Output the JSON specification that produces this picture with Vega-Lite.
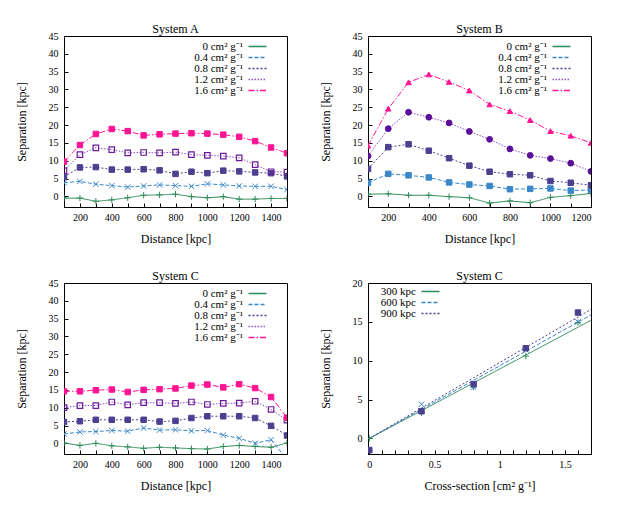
{
"$schema": "https://vega.github.io/schema/vega-lite/v6.json",
"padding": {"left": 14, "top": 22, "right": 5, "bottom": 5},
"bounds": "flush",
"columns": 2,
"spacing": {"column": 81, "row": 76},
"resolve": {"scale": {"color": "independent", "strokeDash": "independent", "x": "independent", "y": "independent"}, "legend": {"color": "independent", "strokeDash": "independent"}},
"config": {
  "font": "Liberation Serif",
  "view": {"stroke": "black", "strokeWidth": 1},
  "axis": {"grid": false, "domainColor": "black", "tickColor": "black", "tickSize": -4, "labelFontSize": 10, "labelColor": "black", "titleFontSize": 12, "titleFontWeight": "normal", "titleColor": "black", "format": "d"},
  "axisX": {"titlePadding": 11, "labelPadding": 9},
  "axisY": {"titlePadding": 20, "labelPadding": 10},
  "title": {"fontSize": 12, "fontWeight": "normal", "offset": -5, "color": "black"},
  "legend": {"symbolType": "M-3,0L3,0", "symbolSize": 36, "symbolStrokeWidth": 1.3, "symbolOpacity": 1, "labelAlign": "right", "labelOffset": -20, "labelFontSize": 11, "labelColor": "black", "rowPadding": -1, "padding": 0}
},
"datasets": {
  "A": [
    {"s":"0 cm² g⁻¹","d":100,"v":-0.5},{"s":"0 cm² g⁻¹","d":200,"v":-0.5},{"s":"0 cm² g⁻¹","d":300,"v":-1.4},{"s":"0 cm² g⁻¹","d":400,"v":-1.0},{"s":"0 cm² g⁻¹","d":500,"v":-0.4},{"s":"0 cm² g⁻¹","d":600,"v":0.3},{"s":"0 cm² g⁻¹","d":700,"v":0.4},{"s":"0 cm² g⁻¹","d":800,"v":0.6},{"s":"0 cm² g⁻¹","d":900,"v":-0.1},{"s":"0 cm² g⁻¹","d":1000,"v":-0.4},{"s":"0 cm² g⁻¹","d":1100,"v":-0.1},{"s":"0 cm² g⁻¹","d":1200,"v":-0.8},{"s":"0 cm² g⁻¹","d":1300,"v":-0.8},{"s":"0 cm² g⁻¹","d":1400,"v":-0.6},{"s":"0 cm² g⁻¹","d":1500,"v":-0.6},
    {"s":"0.4 cm² g⁻¹","d":100,"v":3.8},{"s":"0.4 cm² g⁻¹","d":200,"v":4.2},{"s":"0.4 cm² g⁻¹","d":300,"v":3.4},{"s":"0.4 cm² g⁻¹","d":400,"v":3.0},{"s":"0.4 cm² g⁻¹","d":500,"v":2.6},{"s":"0.4 cm² g⁻¹","d":600,"v":2.9},{"s":"0.4 cm² g⁻¹","d":700,"v":3.2},{"s":"0.4 cm² g⁻¹","d":800,"v":3.0},{"s":"0.4 cm² g⁻¹","d":900,"v":2.8},{"s":"0.4 cm² g⁻¹","d":1000,"v":3.5},{"s":"0.4 cm² g⁻¹","d":1100,"v":3.2},{"s":"0.4 cm² g⁻¹","d":1200,"v":2.9},{"s":"0.4 cm² g⁻¹","d":1300,"v":2.8},{"s":"0.4 cm² g⁻¹","d":1400,"v":2.8},{"s":"0.4 cm² g⁻¹","d":1500,"v":1.9},
    {"s":"0.8 cm² g⁻¹","d":100,"v":5.5},{"s":"0.8 cm² g⁻¹","d":200,"v":8.1},{"s":"0.8 cm² g⁻¹","d":300,"v":8.2},{"s":"0.8 cm² g⁻¹","d":400,"v":7.5},{"s":"0.8 cm² g⁻¹","d":500,"v":7.5},{"s":"0.8 cm² g⁻¹","d":600,"v":7.6},{"s":"0.8 cm² g⁻¹","d":700,"v":7.3},{"s":"0.8 cm² g⁻¹","d":800,"v":6.3},{"s":"0.8 cm² g⁻¹","d":900,"v":6.9},{"s":"0.8 cm² g⁻¹","d":1000,"v":6.5},{"s":"0.8 cm² g⁻¹","d":1100,"v":7.2},{"s":"0.8 cm² g⁻¹","d":1200,"v":7.0},{"s":"0.8 cm² g⁻¹","d":1300,"v":6.7},{"s":"0.8 cm² g⁻¹","d":1400,"v":6.5},{"s":"0.8 cm² g⁻¹","d":1500,"v":5.6},
    {"s":"1.2 cm² g⁻¹","d":100,"v":7.2},{"s":"1.2 cm² g⁻¹","d":200,"v":11.7},{"s":"1.2 cm² g⁻¹","d":300,"v":13.6},{"s":"1.2 cm² g⁻¹","d":400,"v":13.1},{"s":"1.2 cm² g⁻¹","d":500,"v":12.2},{"s":"1.2 cm² g⁻¹","d":600,"v":12.3},{"s":"1.2 cm² g⁻¹","d":700,"v":12.2},{"s":"1.2 cm² g⁻¹","d":800,"v":12.4},{"s":"1.2 cm² g⁻¹","d":900,"v":11.7},{"s":"1.2 cm² g⁻¹","d":1000,"v":11.5},{"s":"1.2 cm² g⁻¹","d":1100,"v":11.3},{"s":"1.2 cm² g⁻¹","d":1200,"v":10.8},{"s":"1.2 cm² g⁻¹","d":1300,"v":8.9},{"s":"1.2 cm² g⁻¹","d":1400,"v":6.9},{"s":"1.2 cm² g⁻¹","d":1500,"v":6.8},
    {"s":"1.6 cm² g⁻¹","d":100,"v":9.7},{"s":"1.6 cm² g⁻¹","d":200,"v":14.4},{"s":"1.6 cm² g⁻¹","d":300,"v":17.5},{"s":"1.6 cm² g⁻¹","d":400,"v":18.9},{"s":"1.6 cm² g⁻¹","d":500,"v":18.3},{"s":"1.6 cm² g⁻¹","d":600,"v":17.1},{"s":"1.6 cm² g⁻¹","d":700,"v":17.4},{"s":"1.6 cm² g⁻¹","d":800,"v":17.6},{"s":"1.6 cm² g⁻¹","d":900,"v":17.7},{"s":"1.6 cm² g⁻¹","d":1000,"v":17.6},{"s":"1.6 cm² g⁻¹","d":1100,"v":17.3},{"s":"1.6 cm² g⁻¹","d":1200,"v":16.7},{"s":"1.6 cm² g⁻¹","d":1300,"v":15.5},{"s":"1.6 cm² g⁻¹","d":1400,"v":13.7},{"s":"1.6 cm² g⁻¹","d":1500,"v":12.1}
  ],
  "B": [
    {"s":"0 cm² g⁻¹","d":100,"v":0.6},{"s":"0 cm² g⁻¹","d":200,"v":0.7},{"s":"0 cm² g⁻¹","d":300,"v":0.3},{"s":"0 cm² g⁻¹","d":400,"v":0.3},{"s":"0 cm² g⁻¹","d":500,"v":-0.1},{"s":"0 cm² g⁻¹","d":600,"v":-0.4},{"s":"0 cm² g⁻¹","d":700,"v":-1.9},{"s":"0 cm² g⁻¹","d":800,"v":-1.3},{"s":"0 cm² g⁻¹","d":900,"v":-1.8},{"s":"0 cm² g⁻¹","d":1000,"v":-0.3},{"s":"0 cm² g⁻¹","d":1100,"v":0.2},{"s":"0 cm² g⁻¹","d":1200,"v":0.8},
    {"s":"0.4 cm² g⁻¹","d":100,"v":3.8},{"s":"0.4 cm² g⁻¹","d":200,"v":6.3},{"s":"0.4 cm² g⁻¹","d":300,"v":5.9},{"s":"0.4 cm² g⁻¹","d":400,"v":5.3},{"s":"0.4 cm² g⁻¹","d":500,"v":3.9},{"s":"0.4 cm² g⁻¹","d":600,"v":3.3},{"s":"0.4 cm² g⁻¹","d":700,"v":2.9},{"s":"0.4 cm² g⁻¹","d":800,"v":2.0},{"s":"0.4 cm² g⁻¹","d":900,"v":2.1},{"s":"0.4 cm² g⁻¹","d":1000,"v":2.2},{"s":"0.4 cm² g⁻¹","d":1100,"v":1.6},{"s":"0.4 cm² g⁻¹","d":1200,"v":1.8},
    {"s":"0.8 cm² g⁻¹","d":100,"v":7.7},{"s":"0.8 cm² g⁻¹","d":200,"v":13.8},{"s":"0.8 cm² g⁻¹","d":300,"v":14.6},{"s":"0.8 cm² g⁻¹","d":400,"v":12.8},{"s":"0.8 cm² g⁻¹","d":500,"v":10.7},{"s":"0.8 cm² g⁻¹","d":600,"v":8.6},{"s":"0.8 cm² g⁻¹","d":700,"v":6.9},{"s":"0.8 cm² g⁻¹","d":800,"v":6.2},{"s":"0.8 cm² g⁻¹","d":900,"v":5.9},{"s":"0.8 cm² g⁻¹","d":1000,"v":4.3},{"s":"0.8 cm² g⁻¹","d":1100,"v":3.8},{"s":"0.8 cm² g⁻¹","d":1200,"v":3.1},
    {"s":"1.2 cm² g⁻¹","d":100,"v":11.3},{"s":"1.2 cm² g⁻¹","d":200,"v":19.0},{"s":"1.2 cm² g⁻¹","d":300,"v":23.6},{"s":"1.2 cm² g⁻¹","d":400,"v":22.2},{"s":"1.2 cm² g⁻¹","d":500,"v":20.6},{"s":"1.2 cm² g⁻¹","d":600,"v":18.2},{"s":"1.2 cm² g⁻¹","d":700,"v":16.0},{"s":"1.2 cm² g⁻¹","d":800,"v":13.3},{"s":"1.2 cm² g⁻¹","d":900,"v":11.5},{"s":"1.2 cm² g⁻¹","d":1000,"v":10.6},{"s":"1.2 cm² g⁻¹","d":1100,"v":9.3},{"s":"1.2 cm² g⁻¹","d":1200,"v":7.0},
    {"s":"1.6 cm² g⁻¹","d":100,"v":14.2},{"s":"1.6 cm² g⁻¹","d":200,"v":24.6},{"s":"1.6 cm² g⁻¹","d":300,"v":32.0},{"s":"1.6 cm² g⁻¹","d":400,"v":34.2},{"s":"1.6 cm² g⁻¹","d":500,"v":32.1},{"s":"1.6 cm² g⁻¹","d":600,"v":29.7},{"s":"1.6 cm² g⁻¹","d":700,"v":25.8},{"s":"1.6 cm² g⁻¹","d":800,"v":23.9},{"s":"1.6 cm² g⁻¹","d":900,"v":21.4},{"s":"1.6 cm² g⁻¹","d":1000,"v":18.3},{"s":"1.6 cm² g⁻¹","d":1100,"v":17.0},{"s":"1.6 cm² g⁻¹","d":1200,"v":15.0}
  ],
  "C": [
    {"s":"0 cm² g⁻¹","d":100,"v":0.1},{"s":"0 cm² g⁻¹","d":200,"v":-0.6},{"s":"0 cm² g⁻¹","d":300,"v":0.0},{"s":"0 cm² g⁻¹","d":400,"v":-0.7},{"s":"0 cm² g⁻¹","d":500,"v":-1.0},{"s":"0 cm² g⁻¹","d":600,"v":-1.4},{"s":"0 cm² g⁻¹","d":700,"v":-1.1},{"s":"0 cm² g⁻¹","d":800,"v":-1.3},{"s":"0 cm² g⁻¹","d":900,"v":-1.5},{"s":"0 cm² g⁻¹","d":1000,"v":-1.6},{"s":"0 cm² g⁻¹","d":1100,"v":-0.9},{"s":"0 cm² g⁻¹","d":1200,"v":-0.6},{"s":"0 cm² g⁻¹","d":1300,"v":-0.9},{"s":"0 cm² g⁻¹","d":1400,"v":-1.1},{"s":"0 cm² g⁻¹","d":1500,"v":0.1},
    {"s":"0.4 cm² g⁻¹","d":100,"v":2.6},{"s":"0.4 cm² g⁻¹","d":200,"v":3.2},{"s":"0.4 cm² g⁻¹","d":300,"v":3.3},{"s":"0.4 cm² g⁻¹","d":400,"v":3.6},{"s":"0.4 cm² g⁻¹","d":500,"v":3.4},{"s":"0.4 cm² g⁻¹","d":600,"v":4.3},{"s":"0.4 cm² g⁻¹","d":700,"v":3.7},{"s":"0.4 cm² g⁻¹","d":800,"v":3.8},{"s":"0.4 cm² g⁻¹","d":900,"v":3.5},{"s":"0.4 cm² g⁻¹","d":1000,"v":3.6},{"s":"0.4 cm² g⁻¹","d":1100,"v":2.3},{"s":"0.4 cm² g⁻¹","d":1200,"v":1.4},{"s":"0.4 cm² g⁻¹","d":1300,"v":0.0},{"s":"0.4 cm² g⁻¹","d":1400,"v":1.0},{"s":"0.4 cm² g⁻¹","d":1500,"v":-4.5},
    {"s":"0.8 cm² g⁻¹","d":100,"v":6.0},{"s":"0.8 cm² g⁻¹","d":200,"v":6.2},{"s":"0.8 cm² g⁻¹","d":300,"v":6.6},{"s":"0.8 cm² g⁻¹","d":400,"v":6.6},{"s":"0.8 cm² g⁻¹","d":500,"v":6.6},{"s":"0.8 cm² g⁻¹","d":600,"v":6.6},{"s":"0.8 cm² g⁻¹","d":700,"v":6.1},{"s":"0.8 cm² g⁻¹","d":800,"v":6.3},{"s":"0.8 cm² g⁻¹","d":900,"v":7.1},{"s":"0.8 cm² g⁻¹","d":1000,"v":7.6},{"s":"0.8 cm² g⁻¹","d":1100,"v":7.6},{"s":"0.8 cm² g⁻¹","d":1200,"v":7.6},{"s":"0.8 cm² g⁻¹","d":1300,"v":7.1},{"s":"0.8 cm² g⁻¹","d":1400,"v":4.9},{"s":"0.8 cm² g⁻¹","d":1500,"v":2.2},
    {"s":"1.2 cm² g⁻¹","d":100,"v":10.0},{"s":"1.2 cm² g⁻¹","d":200,"v":10.6},{"s":"1.2 cm² g⁻¹","d":300,"v":10.6},{"s":"1.2 cm² g⁻¹","d":400,"v":11.6},{"s":"1.2 cm² g⁻¹","d":500,"v":10.8},{"s":"1.2 cm² g⁻¹","d":600,"v":11.4},{"s":"1.2 cm² g⁻¹","d":700,"v":11.4},{"s":"1.2 cm² g⁻¹","d":800,"v":11.2},{"s":"1.2 cm² g⁻¹","d":900,"v":11.6},{"s":"1.2 cm² g⁻¹","d":1000,"v":10.9},{"s":"1.2 cm² g⁻¹","d":1100,"v":11.2},{"s":"1.2 cm² g⁻¹","d":1200,"v":11.3},{"s":"1.2 cm² g⁻¹","d":1300,"v":11.8},{"s":"1.2 cm² g⁻¹","d":1400,"v":9.5},{"s":"1.2 cm² g⁻¹","d":1500,"v":6.5},
    {"s":"1.6 cm² g⁻¹","d":100,"v":14.6},{"s":"1.6 cm² g⁻¹","d":200,"v":14.6},{"s":"1.6 cm² g⁻¹","d":300,"v":14.9},{"s":"1.6 cm² g⁻¹","d":400,"v":15.1},{"s":"1.6 cm² g⁻¹","d":500,"v":14.4},{"s":"1.6 cm² g⁻¹","d":600,"v":15.0},{"s":"1.6 cm² g⁻¹","d":700,"v":15.2},{"s":"1.6 cm² g⁻¹","d":800,"v":15.4},{"s":"1.6 cm² g⁻¹","d":900,"v":16.2},{"s":"1.6 cm² g⁻¹","d":1000,"v":16.5},{"s":"1.6 cm² g⁻¹","d":1100,"v":15.7},{"s":"1.6 cm² g⁻¹","d":1200,"v":16.6},{"s":"1.6 cm² g⁻¹","d":1300,"v":15.5},{"s":"1.6 cm² g⁻¹","d":1400,"v":13.0},{"s":"1.6 cm² g⁻¹","d":1500,"v":7.2}
  ],
  "Dpts": [
    {"s":"300 kpc","x":0,"v":0.0},{"s":"300 kpc","x":0.4,"v":3.3},{"s":"300 kpc","x":0.8,"v":6.6},{"s":"300 kpc","x":1.2,"v":10.6},{"s":"300 kpc","x":1.6,"v":14.9},
    {"s":"600 kpc","x":0,"v":-1.4},{"s":"600 kpc","x":0.4,"v":4.4},{"s":"600 kpc","x":0.8,"v":6.6},{"s":"600 kpc","x":1.2,"v":11.4},{"s":"600 kpc","x":1.6,"v":15.0},
    {"s":"900 kpc","x":0,"v":-1.5},{"s":"900 kpc","x":0.4,"v":3.5},{"s":"900 kpc","x":0.8,"v":7.0},{"s":"900 kpc","x":1.2,"v":11.6},{"s":"900 kpc","x":1.6,"v":16.2}
  ],
  "Dfit": [
    {"s":"300 kpc","x":0,"v":0},{"s":"300 kpc","x":1.7,"v":15.2},
    {"s":"600 kpc","x":0,"v":0},{"s":"600 kpc","x":1.7,"v":15.9},
    {"s":"900 kpc","x":0,"v":0},{"s":"900 kpc","x":1.7,"v":16.6}
  ]
},
"concat": [
  {
    "title": "System A", "width": 223, "height": 171,
    "data": {"name": "A"},
    "encoding": {
      "x": {"field": "d", "type": "quantitative", "scale": {"domain": [100, 1500], "nice": false, "zero": false}, "axis": {"title": "Distance [kpc]", "values": [100,200,300,400,500,600,700,800,900,1000,1100,1200,1300,1400,1500], "labelExpr": "datum.value % 200 === 0 ? datum.label : ''"}},
      "y": {"field": "v", "type": "quantitative", "scale": {"domain": [-3, 45], "nice": false, "zero": false}, "axis": {"title": "Separation [kpc]", "values": [0,5,10,15,20,25,30,35,40,45]}}
    },
    "layer": [
      {"mark": {"type": "line", "strokeWidth": 1, "clip": true},
       "encoding": {
         "color": {"field": "s", "type": "nominal", "scale": {"domain": ["0 cm² g⁻¹","0.4 cm² g⁻¹","0.8 cm² g⁻¹","1.2 cm² g⁻¹","1.6 cm² g⁻¹"], "range": ["#2e8b57","#3a87c8","#4b3f8f","#8a4fc4","#ff1493"]}, "legend": {"title": null, "orient": "none", "legendX": 188, "legendY": 5, "encode": {"symbols": {"update": {"strokeDash": {"signal": "[[1,0],[4,2],[2,2],[1.5,1.5],[6,2,1.5,2]][indexof(['0 cm² g⁻¹','0.4 cm² g⁻¹','0.8 cm² g⁻¹','1.2 cm² g⁻¹','1.6 cm² g⁻¹'], datum.value)]"}}}}}},
         "strokeDash": {"field": "s", "type": "nominal", "scale": {"domain": ["0 cm² g⁻¹","0.4 cm² g⁻¹","0.8 cm² g⁻¹","1.2 cm² g⁻¹","1.6 cm² g⁻¹"], "range": [[1,0],[4,2],[2,2],[1.5,1.5],[6,2,1.5,2]]}, "legend": null}
       }},
      {"transform": [{"filter": {"field": "s", "equal": "0 cm² g⁻¹"}}], "mark": {"type": "point", "shape": "M-1,0L1,0M0,-1L0,1", "stroke": "#2e8b57", "fill": "transparent", "size": 40, "strokeWidth": 1, "opacity": 1, "clip": true}},
      {"transform": [{"filter": {"field": "s", "equal": "0.4 cm² g⁻¹"}}], "mark": {"type": "point", "shape": "M-1,-1L1,1M-1,1L1,-1", "stroke": "#3a87c8", "fill": "transparent", "size": 30, "strokeWidth": 1, "opacity": 1, "clip": true}},
      {"transform": [{"filter": {"field": "s", "equal": "0.8 cm² g⁻¹"}}], "mark": {"type": "point", "shape": "square", "stroke": "#4b3f8f", "fill": "#4b3f8f", "size": 30, "strokeWidth": 1, "opacity": 1, "clip": true}},
      {"transform": [{"filter": {"field": "s", "equal": "1.2 cm² g⁻¹"}}], "mark": {"type": "point", "shape": "square", "stroke": "#6a1b9a", "fill": "transparent", "size": 30, "strokeWidth": 1.2, "opacity": 1, "clip": true}},
      {"transform": [{"filter": {"field": "s", "equal": "1.6 cm² g⁻¹"}}], "mark": {"type": "point", "shape": "square", "stroke": "#ff1493", "fill": "#ff1493", "size": 30, "strokeWidth": 1, "opacity": 1, "clip": true}}
    ]
  },
  {
    "title": "System B", "width": 223, "height": 171,
    "data": {"name": "B"},
    "encoding": {
      "x": {"field": "d", "type": "quantitative", "scale": {"domain": [100, 1200], "nice": false, "zero": false}, "axis": {"title": "Distance [kpc]", "values": [100,200,300,400,500,600,700,800,900,1000,1100,1200], "labelExpr": "datum.value % 200 === 0 ? datum.label : ''"}},
      "y": {"field": "v", "type": "quantitative", "scale": {"domain": [-3, 45], "nice": false, "zero": false}, "axis": {"title": "Separation [kpc]", "values": [0,5,10,15,20,25,30,35,40,45]}}
    },
    "layer": [
      {"mark": {"type": "line", "strokeWidth": 1, "clip": true},
       "encoding": {
         "color": {"field": "s", "type": "nominal", "scale": {"domain": ["0 cm² g⁻¹","0.4 cm² g⁻¹","0.8 cm² g⁻¹","1.2 cm² g⁻¹","1.6 cm² g⁻¹"], "range": ["#2e8b57","#3a87c8","#4b3f8f","#8a4fc4","#ff1493"]}, "legend": {"title": null, "orient": "none", "legendX": 188, "legendY": 5, "encode": {"symbols": {"update": {"strokeDash": {"signal": "[[1,0],[4,2],[2,2],[1.5,1.5],[6,2,1.5,2]][indexof(['0 cm² g⁻¹','0.4 cm² g⁻¹','0.8 cm² g⁻¹','1.2 cm² g⁻¹','1.6 cm² g⁻¹'], datum.value)]"}}}}}},
         "strokeDash": {"field": "s", "type": "nominal", "scale": {"domain": ["0 cm² g⁻¹","0.4 cm² g⁻¹","0.8 cm² g⁻¹","1.2 cm² g⁻¹","1.6 cm² g⁻¹"], "range": [[1,0],[4,2],[2,2],[1.5,1.5],[6,2,1.5,2]]}, "legend": null}
       }},
      {"transform": [{"filter": {"field": "s", "equal": "0 cm² g⁻¹"}}], "mark": {"type": "point", "shape": "M-1,0L1,0M0,-1L0,1", "stroke": "#2e8b57", "fill": "transparent", "size": 40, "strokeWidth": 1, "opacity": 1, "clip": true}},
      {"transform": [{"filter": {"field": "s", "equal": "0.4 cm² g⁻¹"}}], "mark": {"type": "point", "shape": "square", "stroke": "#3a87c8", "fill": "#3a87c8", "size": 30, "strokeWidth": 1, "opacity": 1, "clip": true}},
      {"transform": [{"filter": {"field": "s", "equal": "0.8 cm² g⁻¹"}}], "mark": {"type": "point", "shape": "square", "stroke": "#4b3f8f", "fill": "#4b3f8f", "size": 30, "strokeWidth": 1, "opacity": 1, "clip": true}},
      {"transform": [{"filter": {"field": "s", "equal": "1.2 cm² g⁻¹"}}], "mark": {"type": "point", "shape": "circle", "stroke": "#5a0f9a", "fill": "#5a0f9a", "size": 34, "strokeWidth": 1, "opacity": 1, "clip": true}},
      {"transform": [{"filter": {"field": "s", "equal": "1.6 cm² g⁻¹"}}], "mark": {"type": "point", "shape": "triangle-up", "stroke": "#ff1493", "fill": "#ff1493", "size": 30, "strokeWidth": 1, "opacity": 1, "clip": true}}
    ]
  },
  {
    "title": "System C", "width": 223, "height": 171,
    "data": {"name": "C"},
    "encoding": {
      "x": {"field": "d", "type": "quantitative", "scale": {"domain": [100, 1500], "nice": false, "zero": false}, "axis": {"title": "Distance [kpc]", "values": [100,200,300,400,500,600,700,800,900,1000,1100,1200,1300,1400,1500], "labelExpr": "datum.value % 200 === 0 ? datum.label : ''"}},
      "y": {"field": "v", "type": "quantitative", "scale": {"domain": [-3, 45], "nice": false, "zero": false}, "axis": {"title": "Separation [kpc]", "values": [0,5,10,15,20,25,30,35,40,45]}}
    },
    "layer": [
      {"mark": {"type": "line", "strokeWidth": 1, "clip": true},
       "encoding": {
         "color": {"field": "s", "type": "nominal", "scale": {"domain": ["0 cm² g⁻¹","0.4 cm² g⁻¹","0.8 cm² g⁻¹","1.2 cm² g⁻¹","1.6 cm² g⁻¹"], "range": ["#2e8b57","#3a87c8","#4b3f8f","#8a4fc4","#ff1493"]}, "legend": {"title": null, "orient": "none", "legendX": 188, "legendY": 5, "encode": {"symbols": {"update": {"strokeDash": {"signal": "[[1,0],[4,2],[2,2],[1.5,1.5],[6,2,1.5,2]][indexof(['0 cm² g⁻¹','0.4 cm² g⁻¹','0.8 cm² g⁻¹','1.2 cm² g⁻¹','1.6 cm² g⁻¹'], datum.value)]"}}}}}},
         "strokeDash": {"field": "s", "type": "nominal", "scale": {"domain": ["0 cm² g⁻¹","0.4 cm² g⁻¹","0.8 cm² g⁻¹","1.2 cm² g⁻¹","1.6 cm² g⁻¹"], "range": [[1,0],[4,2],[2,2],[1.5,1.5],[6,2,1.5,2]]}, "legend": null}
       }},
      {"transform": [{"filter": {"field": "s", "equal": "0 cm² g⁻¹"}}], "mark": {"type": "point", "shape": "M-1,0L1,0M0,-1L0,1", "stroke": "#2e8b57", "fill": "transparent", "size": 40, "strokeWidth": 1, "opacity": 1, "clip": true}},
      {"transform": [{"filter": {"field": "s", "equal": "0.4 cm² g⁻¹"}}], "mark": {"type": "point", "shape": "M-1,-1L1,1M-1,1L1,-1", "stroke": "#3a87c8", "fill": "transparent", "size": 30, "strokeWidth": 1, "opacity": 1, "clip": true}},
      {"transform": [{"filter": {"field": "s", "equal": "0.8 cm² g⁻¹"}}], "mark": {"type": "point", "shape": "square", "stroke": "#4b3f8f", "fill": "#4b3f8f", "size": 30, "strokeWidth": 1, "opacity": 1, "clip": true}},
      {"transform": [{"filter": {"field": "s", "equal": "1.2 cm² g⁻¹"}}], "mark": {"type": "point", "shape": "square", "stroke": "#6a1b9a", "fill": "transparent", "size": 30, "strokeWidth": 1.2, "opacity": 1, "clip": true}},
      {"transform": [{"filter": {"field": "s", "equal": "1.6 cm² g⁻¹"}}], "mark": {"type": "point", "shape": "square", "stroke": "#ff1493", "fill": "#ff1493", "size": 30, "strokeWidth": 1, "opacity": 1, "clip": true}}
    ]
  },
  {
    "title": "System C", "width": 223, "height": 171,
    "encoding": {
      "x": {"field": "x", "type": "quantitative", "scale": {"domain": [-0.01, 1.7], "nice": false, "zero": false}, "axis": {"title": "Cross-section [cm² g⁻¹]", "values": [0,0.1,0.2,0.3,0.4,0.5,0.6,0.7,0.8,0.9,1,1.1,1.2,1.3,1.4,1.5,1.6,1.7], "labelExpr": "round(datum.value*10) % 5 === 0 ? format(datum.value, '~g') : ''"}},
      "y": {"field": "v", "type": "quantitative", "scale": {"domain": [-2, 20], "nice": false, "zero": false}, "axis": {"title": "Separation [kpc]", "values": [0,5,10,15,20]}}
    },
    "layer": [
      {"data": {"name": "Dfit"},
       "mark": {"type": "line", "strokeWidth": 1, "clip": true},
       "encoding": {
         "color": {"field": "s", "type": "nominal", "scale": {"domain": ["300 kpc","600 kpc","900 kpc"], "range": ["#2e8b57","#3a87c8","#4b3f8f"]}, "legend": {"title": null, "orient": "none", "legendX": 57, "legendY": 3, "encode": {"symbols": {"update": {"strokeDash": {"signal": "[[1,0],[4,2],[2,2]][indexof(['300 kpc','600 kpc','900 kpc'], datum.value)]"}}}}}},
         "strokeDash": {"field": "s", "type": "nominal", "scale": {"domain": ["300 kpc","600 kpc","900 kpc"], "range": [[1,0],[4,2],[2,2]]}, "legend": null}
       }},
      {"data": {"name": "Dpts"}, "transform": [{"filter": {"field": "s", "equal": "300 kpc"}}], "mark": {"type": "point", "shape": "M-1,0L1,0M0,-1L0,1", "stroke": "#2e8b57", "fill": "transparent", "size": 40, "strokeWidth": 1, "opacity": 1, "clip": true}},
      {"data": {"name": "Dpts"}, "transform": [{"filter": {"field": "s", "equal": "600 kpc"}}], "mark": {"type": "point", "shape": "M-1,-1L1,1M-1,1L1,-1", "stroke": "#3a87c8", "fill": "transparent", "size": 30, "strokeWidth": 1, "opacity": 1, "clip": true}},
      {"data": {"name": "Dpts"}, "transform": [{"filter": {"field": "s", "equal": "900 kpc"}}], "mark": {"type": "point", "shape": "square", "stroke": "#4b3f8f", "fill": "#4b3f8f", "size": 30, "strokeWidth": 1, "opacity": 1, "clip": true}}
    ]
  }
]
}
